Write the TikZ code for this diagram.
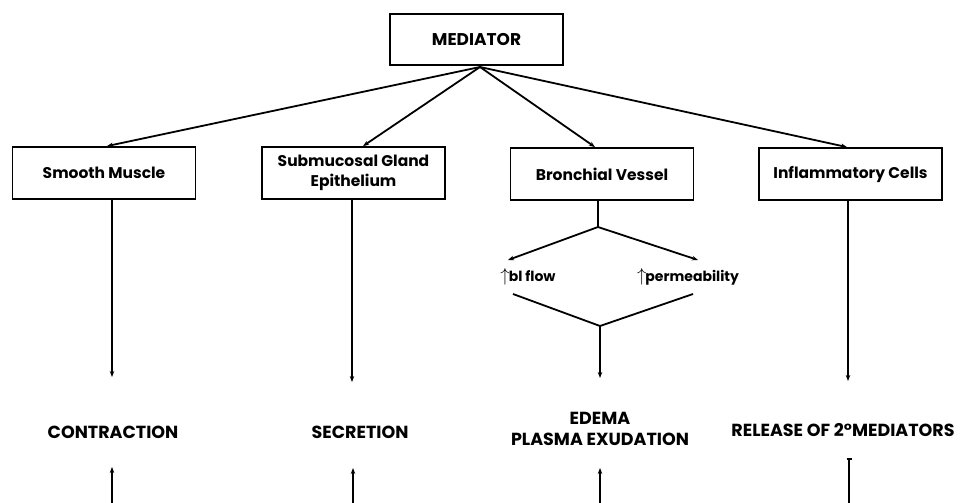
\documentclass[tikz,border=0pt]{standalone}
\usepackage{fontspec}
\setmainfont{Poppins}
\usetikzlibrary{positioning, calc, arrows.meta}

\begin{document}
\begin{tikzpicture}[x=1pt, y=-1pt, line width=1.8pt,
    arr/.style={-{Stealth[length=6pt, width=4.5pt]}},
    box/.style={draw, rectangle, minimum width=183pt, minimum height=52pt, align=center,
        inner sep=0pt, font=\bfseries\fontsize{15.5}{20}\selectfont},
    result/.style={align=center, inner sep=0pt, font=\bfseries\fontsize{17.5}{21}\selectfont},
    small/.style={inner sep=0pt, font=\bfseries\fontsize{14}{15}\selectfont}]
\useasboundingbox (0,0) rectangle (961,503);

\node[box, minimum width=173pt, minimum height=51pt, font=\bfseries\fontsize{17}{20}\selectfont] (med) at (476.5,39.5) {MEDIATOR};
\coordinate (m) at (480,67);

\begin{scope}[every node/.style={box}]
    \node (sm) at (104,173) {Smooth Muscle};
    \node (sub) at (353.5,173) {Submucosal Gland\\Epithelium};
    \node (bv) at (602,174) {Bronchial Vessel};
    \node (inf) at (850.5,174) {Inflammatory Cells};
\end{scope}

\node[result] (con) at (113,432) {CONTRACTION};
\node[result] (sec) at (360,432) {SECRETION};
\node[result] (ede) at (600,429) {EDEMA\\PLASMA EXUDATION};
\node[result] (rel) at (843,430) {RELEASE OF 2\textdegree MEDIATORS};

\node[small] (flow) at (528,277) {\scalebox{1.3}{$\uparrow$}\kern-1pt bl flow};
\node[small] (perm) at (688,277) {\scalebox{1.3}{$\uparrow$}\kern-1pt permeability};

% mediator to targets
\draw[arr] (m) -- ($(sm.north)+(3,0)$);
\draw[arr] (m) -- ($(sub.north)+(9.5,0)$);
\draw[arr] (m) -- ($(bv.north)+(-7,0)$);
\draw[arr] (m) -- ($(inf.north)+(-3.5,0)$);

% bronchial vessel branch
\coordinate (s) at (598,227);
\coordinate (j) at (600,326);
\draw (bv.south -| s) -- (s);
\draw[arr] (s) -- (508,260);
\draw[arr] (s) -- (698,260);
\draw (513,294) -- (j) -- (693,294);
\draw[arr] (j) -- (600,378);

% down to results
\draw[arr] (112,199) -- (112,377);
\draw[arr] (352,199) -- (352,382);
\draw[arr] (848,200) -- (848,381);

% from below
\draw[arr] (112,503) -- (112,467);
\draw[arr] (353,503) -- (353,468);
\draw[arr] (600,503) -- (600,468);
\draw[-{Bar[width=5pt]}] (849,503) -- (849,458);
\end{tikzpicture}
\end{document}
